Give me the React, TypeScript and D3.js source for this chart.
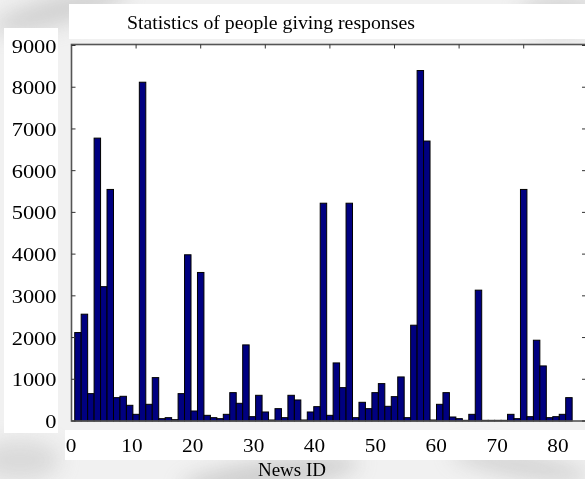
import React from 'react';
import * as d3 from 'd3';

const newsIds = [
  1, 2, 3, 4, 5, 6, 7, 8, 9, 10, 11, 12, 13, 14, 15, 16, 17, 18, 19, 20,
  21, 22, 23, 24, 25, 26, 27, 28, 29, 30, 31, 32, 33, 34, 35, 36, 37, 38, 39, 40,
  41, 42, 43, 44, 45, 46, 47, 48, 49, 50, 51, 52, 53, 54, 55, 56, 57, 58, 59, 60,
  61, 62, 63, 64, 65, 66, 67, 68, 69, 70, 71, 72, 73, 74, 75, 76, 77,
];

const responses = [
  2120, 2560, 656, 6780, 3220, 5550, 560, 592, 376, 160,
  8120, 400, 1040, 56, 80, 32, 656, 3984, 240, 3560,
  136, 80, 56, 160, 680, 424, 1824, 104, 616, 216,
  24, 296, 80, 616, 504, 24, 216, 344, 5220, 136,
  1392, 800, 5220, 80, 448, 296, 680, 896, 352, 584,
  1056, 80, 2296, 8400, 6710, 24, 400, 680, 96, 56,
  16, 160, 3136, 16, 16, 16, 16, 160, 56, 5550,
  104, 1936, 1320, 80, 104, 160, 560,
];

const yTicks = [0, 1000, 2000, 3000, 4000, 5000, 6000, 7000, 8000, 9000];
const xTickLabels = [0, 10, 20, 30, 40, 50, 60, 70, 80];
const topTicks = [10, 20, 30, 40, 50, 60, 70];

const title = 'Statistics of people giving responses';
const xTitle = 'News ID';

const W = 585;
const H = 479;
const FONT = '"Liberation Serif", "Times New Roman", serif';

export default function App() {
  const left = 71.5;
  const top = 44.5;
  const right = 586;
  const bottom = 421;

  const xBar = d3.scaleLinear().domain([0, 80]).range([left, 588.3]);
  const xLabel = d3.scaleLinear().domain([0, 80]).range([71, 558]);
  const y = d3.scaleLinear().domain([0, 9000]).range([bottom, 45.5]);
  const pitch = xBar(1) - xBar(0);

  return (
    <div style={{ position: 'fixed', left: 0, top: 0 }}>
      <svg width={W} height={H} viewBox={`0 0 ${W} ${H}`} style={{ display: 'block' }}>
        <defs>
          <filter id="blur" x="-50%" y="-50%" width="200%" height="200%">
            <feGaussianBlur stdDeviation="10" />
          </filter>
        </defs>
        <rect x={0} y={0} width={W} height={H} fill="#f1f1f1" />
        <g filter="url(#blur)" opacity={0.55}>
          <ellipse cx={60} cy={10} rx={70} ry={14} fill="#b8b8b8" transform="rotate(-15 60 10)" />
          <ellipse cx={560} cy={15} rx={40} ry={22} fill="#c4c4c4" />
          <ellipse cx={270} cy={475} rx={90} ry={14} fill="#b0b0b0" transform="rotate(-8 270 475)" />
          <ellipse cx={520} cy={465} rx={70} ry={12} fill="#bcbcbc" transform="rotate(10 520 465)" />
          <ellipse cx={20} cy={460} rx={40} ry={20} fill="#c8c8c8" />
        </g>
        {/* white label panels */}
        <rect x={69} y={4} width={W - 69} height={35} fill="#ffffff" />
        <rect x={4} y={28} width={54} height={405} fill="#ffffff" />
        <rect x={65} y={430} width={W - 65} height={30} fill="#ffffff" />

        {/* plot area */}
        <rect x={left} y={top} width={right - left} height={bottom - top} fill="#ffffff" />

        {/* bars */}
        <g>
          {newsIds.map((id, i) => (
            <rect
              key={id}
              x={xBar(id) - pitch / 2}
              y={y(responses[i])}
              width={pitch}
              height={y(0) - y(responses[i])}
              fill="#000080"
              stroke="#000000"
              strokeWidth={1}
            />
          ))}
        </g>

        {/* frame */}
        <rect
          x={left}
          y={top}
          width={right - left}
          height={bottom - top}
          fill="none"
          stroke="#555555"
          strokeWidth={1.6}
        />

        {/* left & right y ticks */}
        {yTicks.map((t) => (
          <g key={`yt${t}`}>
            <line x1={left} x2={left + 4} y1={y(t)} y2={y(t)} stroke="#333" strokeWidth={1} />
            <line x1={right - 4} x2={right} y1={y(t)} y2={y(t)} stroke="#333" strokeWidth={1} />
            <text
              transform={`translate(56.5, ${y(t) + 7}) scale(1.18, 1)`}
              textAnchor="end"
              fontFamily={FONT}
              fontSize={19}
              fill="#000"
            >
              {t}
            </text>
          </g>
        ))}

        {/* top ticks */}
        {topTicks.map((t) => (
          <line key={`tt${t}`} x1={xBar(t)} x2={xBar(t)} y1={top} y2={top + 4} stroke="#333" strokeWidth={1} />
        ))}

        {/* bottom labels */}
        {xTickLabels.map((t) => (
          <text
            key={`xl${t}`}
            transform={`translate(${xLabel(t)}, 452) scale(1.12, 1)`}
            textAnchor="middle"
            fontFamily={FONT}
            fontSize={19}
            fill="#000"
          >
            {t}
          </text>
        ))}

        <text x={292} y={476} textAnchor="middle" fontFamily={FONT} fontSize={19} fill="#000">
          {xTitle}
        </text>
        <text x={271} y={29} textAnchor="middle" fontFamily={FONT} fontSize={19.8} fill="#000">
          {title}
        </text>
      </svg>
    </div>
  );
}
